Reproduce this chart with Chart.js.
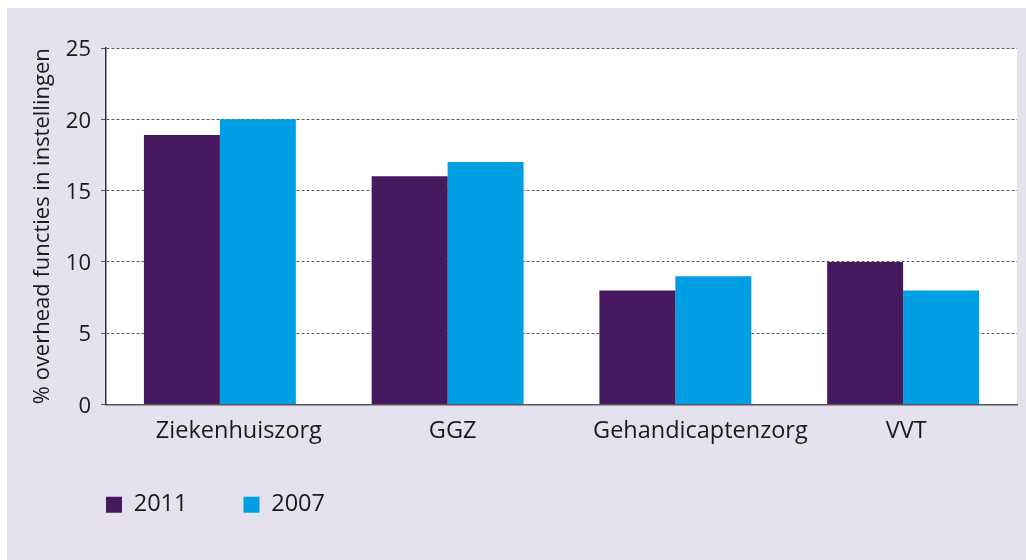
<!DOCTYPE html>
<html>
<head>
<meta charset="utf-8">
<script src="https://cdn.jsdelivr.net/npm/chart.js@4"></script>
<style>
  html, body { margin:0; padding:0; background:#fff; }
  #panel { position:absolute; left:7px; top:8px; width:1019px; height:552px; background:#e6e1ee; }
</style>
</head>
<body>
<div id="panel"><canvas id="chart" width="1019" height="552"></canvas></div>
<script>
// ═══ DATA ═══
const categories = ['Ziekenhuiszorg', 'GGZ', 'Gehandicaptenzorg', 'VVT'];
const values2011 = [18.9, 16, 8, 10];
const values2007 = [20, 17, 9, 8];
const yTicks = [0, 5, 10, 15, 20, 25];

const FAMILY = '"Open Sans", sans-serif';
const LEGEND_PAD = 56;
// category labels in the original sit a little right of the bar groups
const labelShift = [19, 5, 25, 3];

// white plot area, legend placement, label nudges
const plotBg = {
    id: 'plotBg',
    beforeDraw(chart) {
        const { ctx, chartArea: a } = chart;
        ctx.save();
        ctx.fillStyle = '#ffffff';
        ctx.fillRect(a.left, a.top, a.right - a.left, a.bottom - a.top);
        ctx.restore();
        const items = chart.scales.x.getLabelItems();
        if (!items._shifted) {
            items.forEach((it, i) => { it.options.translation[0] += labelShift[i] || 0; });
            items._shifted = true;
        }
    },
    afterLayout(chart) {
        const lg = chart.legend;
        if (!lg) return;
        lg.left = chart.chartArea.left - LEGEND_PAD;
        lg.top = 429;
    }
};

new Chart(document.getElementById('chart'), {
    type: 'bar',
    data: {
        labels: categories,
        datasets: [
            { label: '2011', data: values2011, backgroundColor: '#46185e', borderWidth: 0 },
            { label: '2007', data: values2007, backgroundColor: '#009fe3', borderWidth: 0 }
        ]
    },
    options: {
        responsive: false,
        animation: false,
        layout: { padding: { left: 0, top: 40, right: 9, bottom: 6 } },
        datasets: { bar: { categoryPercentage: 0.667, barPercentage: 1.0 } },
        plugins: {
            legend: {
                position: 'bottom',
                align: 'start',
                labels: { boxWidth: 16, boxHeight: 16, padding: LEGEND_PAD, color: '#1a1a1a', font: { family: FAMILY, size: 23.5 } }
            },
            tooltip: { enabled: false }
        },
        scales: {
            x: {
                grid: { display: false },
                border: { display: true, color: '#555', width: 1.5 },
                ticks: { color: '#1a1a1a', font: { family: FAMILY, size: 23.5 }, padding: 5, maxRotation: 0 },
                afterFit(s) { s.height = 60; }
            },
            y: {
                min: 0, max: 25,
                afterBuildTicks(s) { s.ticks = yTicks.map(v => ({ value: v })); },
                grid: { color: '#5a5a5a', lineWidth: 1, tickLength: 5 },
                border: { display: true, color: '#333', width: 1.5, dash: [3, 2] },
                ticks: { color: '#1a1a1a', font: { family: FAMILY, size: 22 }, padding: 10, labelOffset: 2 },
                title: {
                    display: true,
                    text: '% overhead functies in instellingen',
                    color: '#1a1a1a', font: { family: FAMILY, size: 22 },
                    padding: { top: 23, bottom: 0 }
                },
                afterFit(s) { s.width = 99; }
            }
        }
    },
    plugins: [plotBg]
});
</script>
</body>
</html>
